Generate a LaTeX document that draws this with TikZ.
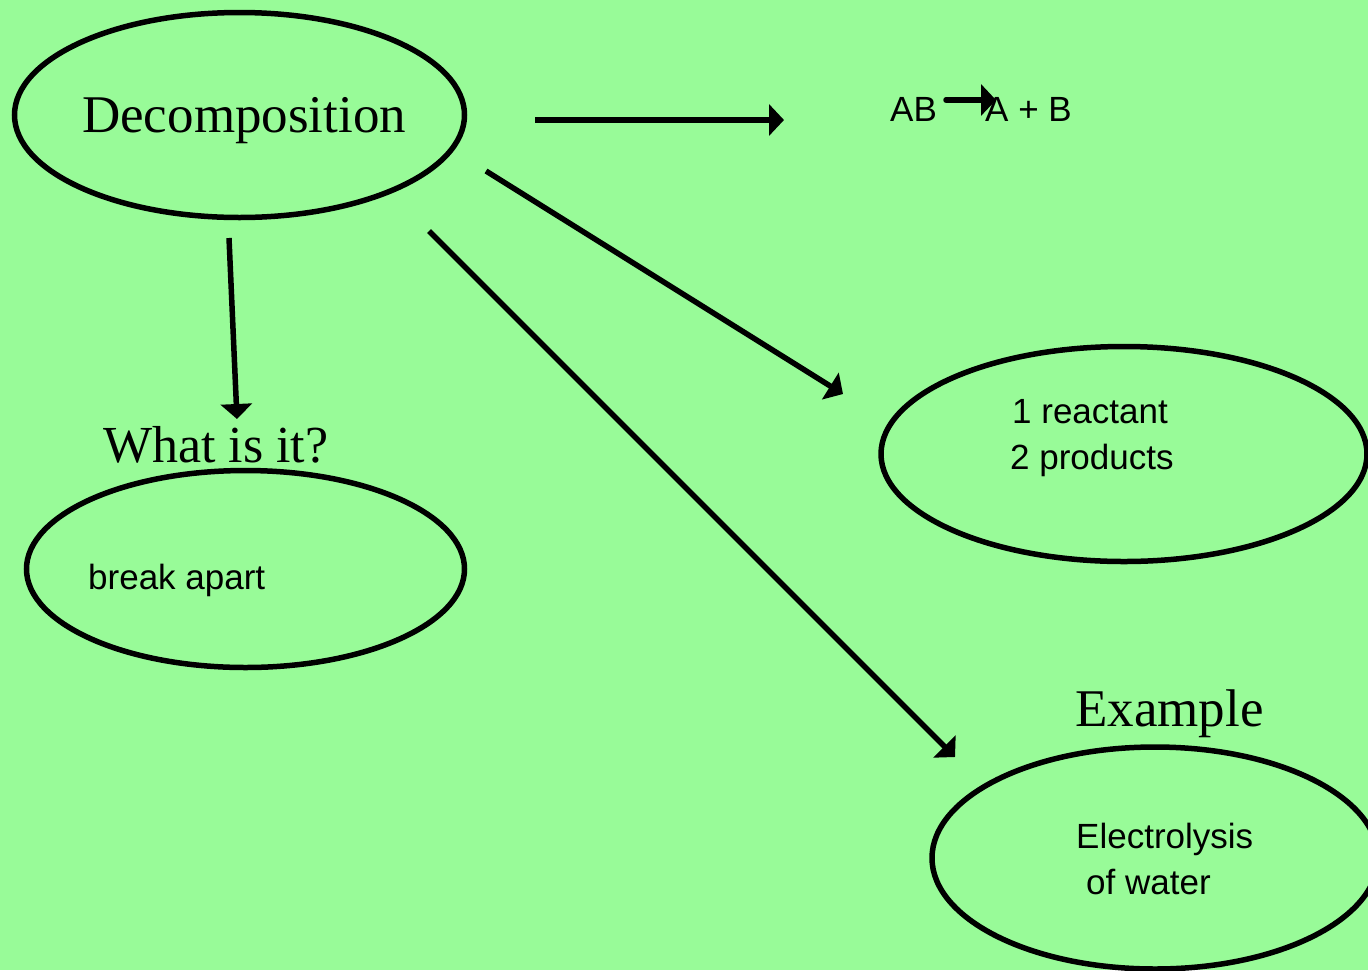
\documentclass[tikz,border=0pt]{standalone}
\usepackage{fontspec}
\setmainfont{Liberation Serif}
\newfontfamily\labelsans{Liberation Sans}
\usetikzlibrary{arrows.meta,shapes.geometric}
\definecolor{bggreen}{RGB}{152,251,152}
\tikzset{
  bubble/.style={ellipse, draw=black, line width=5.5pt, inner sep=0pt},
  bigserif/.style={inner sep=0pt, anchor=base west, font=\fontsize{53}{60}\selectfont},
  smallsans/.style={inner sep=0pt, anchor=base west, font=\labelsans\fontsize{35}{40}\selectfont},
  link/.style={line width=5.5pt, -{Triangle[length=15pt,width=31pt]}},
}
\begin{document}
\begin{tikzpicture}[x=1pt,y=-1pt]
  % canvas
  \fill[bggreen] (0,0) rectangle (1368,970);
  \useasboundingbox (0,0) rectangle (1368,970);

  % ellipses
  \node[bubble, minimum width=450pt, minimum height=205pt] (decomp) at (239.5,115) {};
  \node[bubble, minimum width=438pt, minimum height=197pt] (what) at (245.5,569) {};
  \node[bubble, minimum width=486pt, minimum height=215pt] (count) at (1124,454) {};
  \node[bubble, minimum width=446pt, minimum height=222pt] (example) at (1155,858) {};

  % headings
  \node[bigserif] (decomptext) at (82,132) {Decomposition};
  \node[bigserif, font=\fontsize{52}{60}\selectfont] (whattext) at (103,462) {What is it?};
  \node[bigserif] (exampletext) at (1075,726) {Example};

  % ellipse contents
  \node[smallsans] (breaktext) at (88,589) {break apart};
  \node[smallsans] (reactant) at (1012,423) {1 reactant};
  \node[smallsans] (products) at (1010,469) {2 products};
  \node[smallsans] (electro) at (1076,848) {Electrolysis};
  \node[smallsans] (water) at (1086,894) {of water};

  % general equation
  \node[smallsans] (ab) at (890,121) {AB};
  \node[smallsans] (aplusb) at (985,121) {A + B};
  \coordinate (eqs) at (946,100);
  \coordinate (eqe) at (996,100);
  \draw[link, line cap=round] (eqs) -- (eqe);

  % connectors
  \coordinate (r1s) at (535,120);
  \coordinate (r1e) at (784,120);
  \coordinate (d1s) at (229,238);
  \coordinate (d1e) at (237,419);
  \coordinate (c1s) at (486,171);
  \coordinate (c1e) at (843,394);
  \coordinate (e1s) at (429,231);
  \coordinate (e1e) at (955,757);
  \draw[link] (r1s) -- (r1e);
  \draw[link] (d1s) -- (d1e);
  \draw[link] (c1s) -- (c1e);
  \draw[link] (e1s) -- (e1e);
\end{tikzpicture}
\end{document}
